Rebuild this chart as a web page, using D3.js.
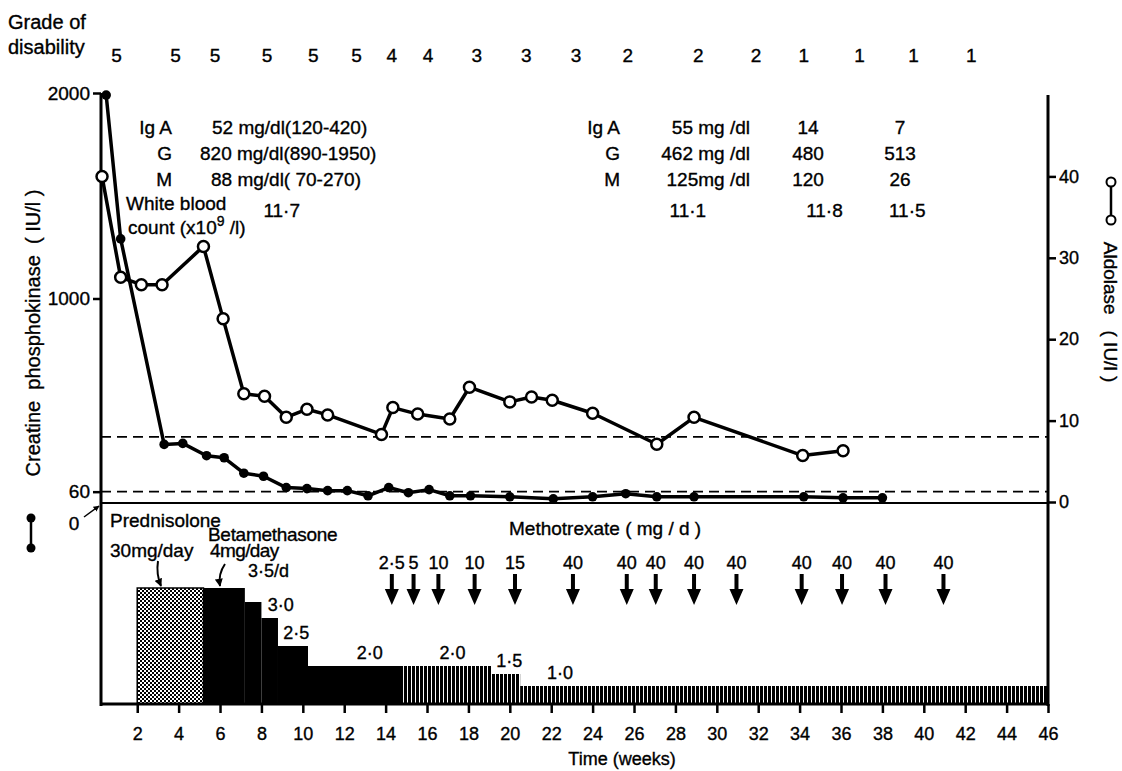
<!DOCTYPE html>
<html lang="en">
<head>
<meta charset="utf-8">
<title>CPK, aldolase and treatment</title>
<script src="https://cdnjs.cloudflare.com/ajax/libs/d3/7.8.5/d3.min.js"></script>
<style>
	body { margin: 0; background: #fff; }
	svg text { font-family: "Liberation Sans", Arial, sans-serif; fill: #000; stroke: #000; stroke-width: 0.35px; }
	.axis path { display: none; }
	.axis line { stroke: #000; stroke-width: 2.5; }
	.axis text { font-size: 18px; }
</style>
</head>
<body>
<div id="vis"></div>
<script>
	// grade of disability along the top
	var gradeWeeks = [1.0, 3.85, 5.76, 8.27, 10.5, 12.6, 14.3, 16.05, 18.4, 20.8, 23.2, 25.7, 29.1, 31.9, 34.2, 36.9, 39.5, 42.3];
	var grades     = [5, 5, 5, 5, 5, 5, 4, 4, 3, 3, 3, 2, 2, 2, 1, 1, 1, 1];

	// creatine phosphokinase (IU/l), filled dots
	var cpkWeeks = [0.5, 1.2, 3.3, 4.2, 5.35, 6.2, 7.15, 8.1, 9.2, 10.2, 11.2, 12.15, 13.15, 14.15, 15.1, 16.1, 17.1, 18.1, 20.0, 22.1, 24.0, 25.6, 27.1, 28.9, 34.2, 36.1, 38.0];
	var cpk      = [1990, 1290, 290, 295, 235, 225, 150, 135, 80, 75, 65, 65, 40, 80, 55, 70, 40, 40, 35, 25, 35, 50, 35, 35, 35, 30, 30];

	// aldolase (IU/l), open dots
	var aldWeeks = [0.3, 1.2, 2.2, 3.2, 5.2, 6.15, 7.15, 8.15, 9.2, 10.2, 11.2, 13.8, 14.35, 15.55, 17.1, 18.05, 20.0, 21.05, 22.05, 24.0, 27.1, 28.9, 34.15, 36.1];
	var ald      = [40, 27.6, 26.7, 26.7, 31.4, 22.5, 13.3, 13.0, 10.4, 11.4, 10.7, 8.3, 11.6, 10.8, 10.2, 14.1, 12.3, 12.9, 12.5, 10.9, 7.1, 10.4, 5.7, 6.3];

	// normal upper limits (dashed)
	var cpkLimit = 60;
	var aldLimit = 8;

	// steroid steps (betamethasone mg/day, prednisolone drawn at same level)
	var doseStart = [2.0, 5.2, 7.2, 8.0, 8.8, 10.25, 14.85, 19.1, 20.5];
	var doseEnd   = [5.2, 7.2, 8.0, 8.8, 10.25, 14.85, 19.1, 20.5, 46];
	var doseValue = [4, 4, 3.5, 3.0, 2.5, 2.0, 2.0, 1.5, 1.0];
	var doseKind  = ["pred", "beta", "beta", "beta", "beta", "beta", "alt", "alt", "alt"];

	var doseLabels     = ["3·5/d", "3·0", "2·5", "2·0", "2·0", "1·5", "1·0"];
	var doseLabelWeeks = [7.35, 8.3, 9.05, 12.6, 16.6, 19.35, 21.8];
	var doseLabelLevel = [4, 3, 2.5, 2, 2, 1.5, 1];

	// methotrexate doses (mg/d)
	var mtxWeeks = [14.3, 15.35, 16.55, 18.3, 20.25, 23.05, 25.65, 27.05, 28.9, 30.95, 34.1, 36.05, 38.15, 40.95];
	var mtxDose  = [2.5, 5, 10, 10, 15, 40, 40, 40, 40, 40, 40, 40, 40, 40];

	// immunoglobulins and white blood count
	var igNames  = ["Ig A", "G", "M"];
	var igFirst  = ["52 mg/dl(120-420)", "820 mg/dl(890-1950)", "88 mg/dl( 70-270)"];
	var igSecond = ["55 mg /dl", "462 mg /dl", "125mg /dl"];
	var igThird  = ["14", "480", "120"];
	var igFourth = ["7", "513", "26"];
	var wbcWeeks = [8.98, 28.6, 35.2, 39.2];
	var wbc      = [11.7, 11.1, 11.8, 11.5];

	var xTicks   = d3.range(2, 47, 2);
	var cpkTicks = [60, 1000, 2000];
	var aldTicks = [0, 10, 20, 30, 40];

	function dot(v) { return String(v).replace(".", "·"); }

	var svg = d3.select("#vis").append("svg")
		.attr("width", 1122)
		.attr("height", 771);

	var pLeft = 101, pRight = 1048, pTop = 93, pMid = 504, pBottom = 704;

	var x = d3.scaleLinear().domain([0.25, 46]).range([pLeft, pRight]);
	var yCpk = d3.scaleLinear().domain([0, 2000]).range([pMid, pTop]);
	var yAld = d3.scaleLinear().domain([0, 50]).range([502, 95]);
	// the dose steps are not drawn to a linear scale in the original
	var yDose = d3.scaleLinear()
		.domain([0, 1, 1.5, 2, 2.5, 3, 3.5, 4])
		.range([pBottom, 686, 674, 666, 646, 618, 602, 588]);

	var defs = svg.append("defs");
	var stip = defs.append("pattern").attr("id", "stipple")
		.attr("patternUnits", "userSpaceOnUse").attr("width", 4).attr("height", 4);
	stip.append("rect").attr("width", 4).attr("height", 4).attr("fill", "#fff");
	stip.append("rect").attr("width", 2).attr("height", 2).attr("fill", "#000");
	stip.append("rect").attr("x", 2).attr("y", 2).attr("width", 2).attr("height", 2).attr("fill", "#000");

	var stripe = defs.append("pattern").attr("id", "stripe")
		.attr("patternUnits", "userSpaceOnUse").attr("width", 4).attr("height", 10);
	stripe.append("rect").attr("width", 4).attr("height", 10).attr("fill", "#fff");
	stripe.append("rect").attr("width", 3).attr("height", 10).attr("fill", "#000");

	var arrowDef = defs.append("marker").attr("id", "head")
		.attr("viewBox", "0 0 10 10").attr("refX", 9).attr("refY", 5)
		.attr("markerWidth", 4).attr("markerHeight", 4).attr("orient", "auto");
	arrowDef.append("path").attr("d", "M0,0 L10,5 L0,10 z").attr("fill", "#000");

	var fills = { pred: "url(#stipple)", beta: "#000", alt: "url(#stripe)" };

	// ---------- steroid steps ----------
	var steps = svg.append("g");
	steps.selectAll("rect")
		.data(d3.range(doseStart.length))
		.enter().append("rect")
			.attr("x", function(i) { return x(doseStart[i]); })
			.attr("width", function(i) { return x(doseEnd[i]) - x(doseStart[i]); })
			.attr("y", function(i) { return yDose(doseValue[i]); })
			.attr("height", function(i) { return pBottom - yDose(doseValue[i]); })
			.attr("fill", function(i) { return fills[doseKind[i]]; })
			.attr("stroke", function(i) { return doseKind[i] == "pred" ? "#000" : "none"; })
			.attr("stroke-width", 1.5);

	steps.selectAll("text.dose")
		.data(doseLabels)
		.enter().append("text")
			.attr("class", "dose")
			.attr("x", function(d, i) { return x(doseLabelWeeks[i]); })
			.attr("y", function(d, i) { return yDose(doseLabelLevel[i]) - (i == 0 ? 11 : 7); })
			.style("font-size", "18px")
			.text(function(d) { return d; });

	svg.append("text").attr("x", 110).attr("y", 527).style("font-size", "19px").text("Prednisolone");
	svg.append("text").attr("x", 110).attr("y", 557).style("font-size", "19px").text("30mg/day");
	svg.append("text").attr("x", 208).attr("y", 541).style("font-size", "19px").style("letter-spacing", "-0.3px").text("Betamethasone");
	svg.append("text").attr("x", 210).attr("y", 557).style("font-size", "19px").style("letter-spacing", "-0.6px").text("4mg/day");

	svg.append("path")
		.attr("d", "M158,561 Q156,574 161," + (yDose(4) - 2))
		.attr("fill", "none").attr("stroke", "#000").attr("stroke-width", 2)
		.attr("marker-end", "url(#head)");
	svg.append("path")
		.attr("d", "M225,564 Q218,574 220," + (yDose(4) - 2))
		.attr("fill", "none").attr("stroke", "#000").attr("stroke-width", 2)
		.attr("marker-end", "url(#head)");

	// ---------- methotrexate ----------
	svg.append("text").attr("x", 509).attr("y", 535).style("font-size", "19px").text("Methotrexate ( mg / d )");

	var mtx = svg.append("g");
	mtx.selectAll("path")
		.data(mtxWeeks)
		.enter().append("path")
			.attr("d", function(w) {
				var cx = x(w);
				return "M" + (cx - 2) + ",574 h4 v15 h5 l-7,16 l-7,-16 h5 z";
			})
			.attr("fill", "#000");
	mtx.selectAll("text")
		.data(mtxWeeks)
		.enter().append("text")
			.attr("x", function(w) { return x(w); })
			.attr("y", 569)
			.attr("text-anchor", "middle")
			.style("font-size", "18px")
			.text(function(w, i) { return dot(mtxDose[i]); });

	// ---------- frame and axes ----------
	svg.append("line").attr("x1", pLeft).attr("x2", pLeft).attr("y1", pTop).attr("y2", pBottom + 2)
		.attr("stroke", "#000").attr("stroke-width", 3);
	svg.append("line").attr("x1", pRight).attr("x2", pRight).attr("y1", 95).attr("y2", pBottom + 2)
		.attr("stroke", "#000").attr("stroke-width", 3);
	svg.append("line").attr("x1", pLeft).attr("x2", pRight).attr("y1", pBottom).attr("y2", pBottom)
		.attr("stroke", "#000").attr("stroke-width", 3);
	svg.append("line").attr("x1", pLeft).attr("x2", pRight).attr("y1", pMid - 1).attr("y2", pMid - 1)
		.attr("stroke", "#000").attr("stroke-width", 2);

	svg.append("line").attr("x1", pLeft).attr("x2", pRight)
		.attr("y1", yAld(aldLimit)).attr("y2", yAld(aldLimit))
		.attr("stroke", "#000").attr("stroke-width", 1.8).attr("stroke-dasharray", "10,6");
	svg.append("line").attr("x1", pLeft).attr("x2", pRight)
		.attr("y1", yCpk(cpkLimit)).attr("y2", yCpk(cpkLimit))
		.attr("stroke", "#000").attr("stroke-width", 1.8).attr("stroke-dasharray", "10,6");

	svg.append("g").attr("class", "axis")
		.attr("transform", "translate(0," + pBottom + ")")
		.call(d3.axisBottom(x).tickValues(xTicks).tickSize(9).tickPadding(14));

	svg.append("g").attr("class", "axis")
		.attr("transform", "translate(" + pLeft + ",0)")
		.call(d3.axisLeft(yCpk).tickValues(cpkTicks).tickSize(8).tickPadding(3).tickFormat(d3.format("d")))
		.selectAll("text").style("font-size", "19px");

	svg.append("g").attr("class", "axis")
		.attr("transform", "translate(" + pRight + ",0)")
		.call(d3.axisRight(yAld).tickValues(aldTicks).tickSize(8).tickPadding(3));

	svg.append("text").attr("x", 74).attr("y", 530).attr("text-anchor", "middle")
		.style("font-size", "19px").text("0");
	svg.append("line").attr("x1", 84).attr("y1", 517).attr("x2", 99).attr("y2", 506)
		.attr("stroke", "#000").attr("stroke-width", 1.5).attr("marker-end", "url(#head)");

	svg.append("text").attr("x", 622).attr("y", 765).attr("text-anchor", "middle")
		.style("font-size", "18px").text("Time (weeks)");

	svg.append("text")
		.attr("transform", "translate(40,333) rotate(-90)")
		.attr("text-anchor", "middle")
		.style("font-size", "20px")
		.attr("xml:space", "preserve")
		.text("Creatine  phosphokinase  ( IU/l )");
	svg.append("line").attr("x1", 31).attr("x2", 31).attr("y1", 518).attr("y2", 548)
		.attr("stroke", "#000").attr("stroke-width", 2.5);
	svg.append("circle").attr("cx", 31).attr("cy", 518).attr("r", 4.5).attr("fill", "#000");
	svg.append("circle").attr("cx", 31).attr("cy", 548).attr("r", 4.5).attr("fill", "#000");

	svg.append("text")
		.attr("transform", "translate(1104,312) rotate(90)")
		.attr("text-anchor", "middle")
		.style("font-size", "19px")
		.attr("xml:space", "preserve")
		.text("Aldolase   ( IU/l )");
	svg.append("line").attr("x1", 1111).attr("x2", 1111).attr("y1", 182).attr("y2", 220)
		.attr("stroke", "#000").attr("stroke-width", 2.5);
	svg.append("circle").attr("cx", 1111).attr("cy", 182).attr("r", 4.5)
		.attr("fill", "#fff").attr("stroke", "#000").attr("stroke-width", 2);
	svg.append("circle").attr("cx", 1111).attr("cy", 220).attr("r", 4.5)
		.attr("fill", "#fff").attr("stroke", "#000").attr("stroke-width", 2);

	// ---------- grade of disability ----------
	svg.append("text").attr("x", 8).attr("y", 29).style("font-size", "20px").text("Grade of");
	svg.append("text").attr("x", 8).attr("y", 54).style("font-size", "20px").text("disability");
	svg.selectAll("text.grade")
		.data(grades)
		.enter().append("text")
			.attr("class", "grade")
			.attr("x", function(d, i) { return x(gradeWeeks[i]); })
			.attr("y", 62)
			.attr("text-anchor", "middle")
			.style("font-size", "19px")
			.text(function(d) { return d; });

	// ---------- immunoglobulin table ----------
	var igRowY = [134, 160, 186];
	var ig = svg.append("g").style("font-size", "19px");
	igNames.forEach(function(n, i) {
		ig.append("text").attr("x", 172).attr("y", igRowY[i]).attr("text-anchor", "end").text(n);
		ig.append("text").attr("x", [212, 200, 211][i]).attr("y", igRowY[i]).text(igFirst[i]);
		ig.append("text").attr("x", 620).attr("y", igRowY[i]).attr("text-anchor", "end").text(n);
		ig.append("text").attr("x", 750).attr("y", igRowY[i]).attr("text-anchor", "end").text(igSecond[i]);
		ig.append("text").attr("x", 808).attr("y", igRowY[i]).attr("text-anchor", "middle").text(igThird[i]);
		ig.append("text").attr("x", 900).attr("y", igRowY[i]).attr("text-anchor", "middle").text(igFourth[i]);
	});
	ig.append("text").attr("x", 126).attr("y", 210).text("White blood");
	var cnt = ig.append("text").attr("x", 128).attr("y", 234);
	cnt.append("tspan").text("count (x10");
	cnt.append("tspan").attr("dy", -8).style("font-size", "14px").text("9");
	cnt.append("tspan").attr("dy", 8).text(" /l)");
	ig.selectAll("text.wbc")
		.data(wbc)
		.enter().append("text")
			.attr("class", "wbc")
			.attr("x", function(d, i) { return x(wbcWeeks[i]); })
			.attr("y", 217)
			.attr("text-anchor", "middle")
			.text(function(d) { return dot(d); });

	// ---------- lines ----------
	var cpkPts = d3.zip(cpkWeeks, cpk);
	var aldPts = d3.zip(aldWeeks, ald);

	svg.append("path")
		.attr("d", d3.line().x(function(d) { return x(d[0]); }).y(function(d) { return yCpk(d[1]); })(cpkPts))
		.attr("fill", "none").attr("stroke", "#000").attr("stroke-width", 3.5).attr("stroke-linejoin", "round");
	svg.append("path")
		.attr("d", d3.line().x(function(d) { return x(d[0]); }).y(function(d) { return yAld(d[1]); })(aldPts))
		.attr("fill", "none").attr("stroke", "#000").attr("stroke-width", 3.5).attr("stroke-linejoin", "round");

	svg.selectAll("circle.cpk")
		.data(cpkPts)
		.enter().append("circle")
			.attr("class", "cpk")
			.attr("cx", function(d) { return x(d[0]); })
			.attr("cy", function(d) { return yCpk(d[1]); })
			.attr("r", 4.8)
			.attr("fill", "#000");

	svg.selectAll("circle.ald")
		.data(aldPts)
		.enter().append("circle")
			.attr("class", "ald")
			.attr("cx", function(d) { return x(d[0]); })
			.attr("cy", function(d) { return yAld(d[1]); })
			.attr("r", 5.5)
			.attr("fill", "#fff")
			.attr("stroke", "#000")
			.attr("stroke-width", 2.5);
</script>
</body>
</html>
